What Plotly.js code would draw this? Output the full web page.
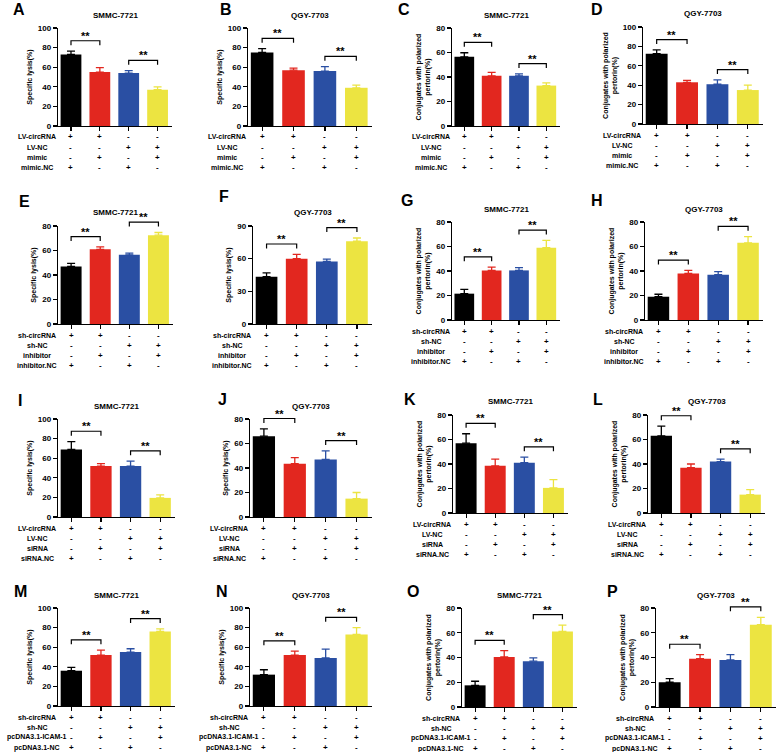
<!DOCTYPE html>
<html><head><meta charset="utf-8">
<script src="https://cdn.plot.ly/plotly-3.0.1.min.js"></script>
<style>html,body{margin:0;padding:0;background:#fff}#chart{width:776px;height:752px}</style>
</head><body><div id="chart"></div>
<script>
// ---------- data ----------
const panelLetters = ['A','B','C','D','E','F','G','H','I','J','K','L','M','N','O','P'];
const cellLines = ['SMMC-7721','QGY-7703','SMMC-7721','QGY-7703'];
const lysisTitle = 'Specific lysis(%)';
const conjTitle = 'Conjugates with polarized<br>pertorin(%)';
const barColors = ['#000000','#e2271f','#2a4fa3','#ece441'];
const signs = [['+','+','-','-'],['-','-','+','+'],['-','+','-','+'],['+','-','+','-']];
const rowLabels1 = ['LV-circRNA','LV-NC','mimic','mimic.NC'];
const rowLabels2 = ['sh-circRNA','sh-NC','inhibitor','inhibitor.NC'];
const rowLabels3 = ['LV-circRNA','LV-NC','siRNA','siRNA.NC'];
const rowLabels4 = ['sh-circRNA','sh-NC','pcDNA3.1-ICAM-1','pcDNA3.1-NC'];

const valA = [73,55,54,37],   errA = [3.5,4.5,2.5,3];
const valB = [75,57,56,39],   errB = [4,2,4.5,2.7];
const valC = [56.5,41,41,33], errC = [3.3,2.7,1.6,2.2];
const valD = [72.5,43,41,35], errD = [4,2,4.5,5];
const valE = [47,61,56.5,72.5], errE = [2.5,2,1.3,2.2];
const valF = [43.5,60,57.5,76], errF = [3.5,4,2,3];
const valG = [21.5,40.5,40.5,59], errG = [3.5,2.7,2.2,6];
const valH = [19,38,37,63],   errH = [2,2.5,2.5,5];
const valI = [69,52,52,19.5], errI = [8,2.5,5,3];
const valJ = [66,43.5,47,15], errJ = [6,5,7,5];
const valK = [57,38.5,41,20.5], errK = [7.7,5.5,4.6,6.8];
const valL = [63,37,42,15],   errL = [8,3,2,4];
const valM = [36,52,55,76],   errM = [3.4,5,3.4,2.7];
const valN = [32,52,49,73],   errN = [5,4,9,7];
const valO = [17.5,40.5,37,61], errO = [3.3,5,2.7,5.2];
const valP = [20,39,38,66.5], errP = [3,3.3,4.3,6];

const yMaxes = [100,100,80,100, 80,90,80,80, 100,80,80,80, 100,100,80,80];
const yTicks = [20,20,20,20, 20,30,20,20, 20,20,20,20, 20,20,20,20];

// ---------- layout geometry (pixels) ----------
const W = 776, H = 752;
const boxes = [
  [58,172,28,126],[248,372,28,126],[452,560,28,126],[643,763,27,124],
  [58,173,226,324],[253,372,226,324],[452,560,222,320],[645,763,222,320],
  [58,175,419,517],[250,372,419,517],[453,568,415,513],[648,765,415,513],
  [58,175,608,706],[250,372,608,706],[462,577,608,707],[656,776,608,707]
];
const letterPos = [
  [19,9],[226,9],[404,9],[597,9],
  [24,202],[224,196],[407,201],[597,200],
  [20,400],[222,399],[410,399],[598,399],
  [20,591],[222,591],[413,591],[612,591]
];

const vals = [valA,valB,valC,valD,valE,valF,valG,valH,valI,valJ,valK,valL,valM,valN,valO,valP];
const errs = [errA,errB,errC,errD,errE,errF,errG,errH,errI,errJ,errK,errL,errM,errN,errO,errP];
const rowLabelSets = [rowLabels1,rowLabels2,rowLabels3,rowLabels4];

const FONT = 'Liberation Sans, Arial, sans-serif';
const XR = [0.55, 4.5];

const traces = [], shapes = [], annotations = [];
const layout = {
  width: W, height: H, margin:{l:0,r:0,t:0,b:0},
  paper_bgcolor:'#fff', plot_bgcolor:'rgba(0,0,0,0)',
  showlegend:false, barmode:'overlay',
  font:{family:FONT, color:'#000'}
};

for (let i = 0; i < 16; i++) {
  const k = i + 1;
  const xa = 'x' + (k === 1 ? '' : k), ya = 'y' + (k === 1 ? '' : k);
  const [l, r, t, b] = boxes[i];
  const xd = [l / W, r / W], yd = [1 - b / H, 1 - t / H];
  const ymax = yMaxes[i];
  const tv = []; for (let v = 0; v <= ymax + 1e-9; v += yTicks[i]) tv.push(v);
  const row = Math.floor(i / 4), col = i % 4;
  const isConj = (col >= 2);

  layout['xaxis' + (k === 1 ? '' : k)] = {
    domain: xd, anchor: ya, range: XR, tickvals: [1,2,3,4], showticklabels: false,
    ticks: 'outside', ticklen: 4, tickwidth: 1.2, tickcolor: '#000',
    showline: true, linecolor: '#000', linewidth: 1.2, showgrid: false, zeroline: false, fixedrange: true
  };
  layout['yaxis' + (k === 1 ? '' : k)] = {
    domain: yd, anchor: xa, range: [0, ymax], tickvals: tv,
    ticks: 'outside', ticklen: 4, tickwidth: 1.2, tickcolor: '#000',
    showline: true, linecolor: '#000', linewidth: 1.2, showgrid: false, zeroline: false, fixedrange: true,
    tickfont: {family: FONT, size: 8, weight: 700, color: '#000'},
    title: {text: isConj ? conjTitle : lysisTitle, font: {family: FONT, size: 7, weight: 700, color: '#000'}, standoff: 4}
  };

  const v = vals[i], e = errs[i];
  for (let j = 0; j < 4; j++) {
    traces.push({
      type: 'bar', x: [j + 1], y: [v[j]], xaxis: xa, yaxis: ya, width: 0.72,
      marker: {color: barColors[j], line: {width: 0}},
      error_y: {type: 'data', symmetric: false, array: [e[j]], arrayminus: [0], color: barColors[j], thickness: 1.3, width: 4},
      hoverinfo: 'skip', showlegend: false
    });
  }

  const xp = xv => xd[0] + (xv - XR[0]) / (XR[1] - XR[0]) * (xd[1] - xd[0]);
  const yp = yv => yd[0] + yv / ymax * (yd[1] - yd[0]);

  // significance brackets
  [[0,1],[2,3]].forEach(([p, q]) => {
    const top = Math.max(v[p] + e[p], v[q] + e[q]) + 0.105 * ymax;
    const leg = 0.045 * ymax;
    const x1 = xp(p + 1), x2 = xp(q + 1), yb = yp(top), yl = yp(top - leg);
    shapes.push({type: 'path', xref: 'paper', yref: 'paper',
      path: `M ${x1},${yl} L ${x1},${yb} L ${x2},${yb} L ${x2},${yl}`,
      line: {color: '#000', width: 1.2}});
    annotations.push({xref: 'paper', yref: 'paper', x: (x1 + x2) / 2, y: yb, yanchor: 'bottom', xanchor: 'center',
      yshift: -3, text: '**', showarrow: false, font: {family: FONT, size: 11, weight: 700, color: '#000'}});
  });

  // panel title
  annotations.push({xref: 'paper', yref: 'paper', x: (l + r) / 2 / W, y: 1 - (t - 13) / H,
    text: cellLines[col], showarrow: false, xanchor: 'center', yanchor: 'middle',
    font: {family: FONT, size: 8, weight: 700, color: '#000'}});
  // panel letter
  annotations.push({xref: 'paper', yref: 'paper', x: letterPos[i][0] / W, y: 1 - letterPos[i][1] / H,
    text: panelLetters[i], showarrow: false, xanchor: 'center', yanchor: 'middle',
    font: {family: FONT, size: 16, weight: 700, color: '#000'}});

  // condition rows
  const labels = rowLabelSets[row];
  for (let rr = 0; rr < 4; rr++) {
    const yy = 1 - (b + 11 + rr * 10.2) / H;
    annotations.push({xref: 'paper', yref: 'paper', x: (l - 21) / W, y: yy, text: labels[rr],
      showarrow: false, xanchor: 'center', yanchor: 'middle',
      font: {family: FONT, size: 7, weight: 700, color: '#000'}});
    for (let j = 0; j < 4; j++) {
      annotations.push({xref: xa, yref: 'paper', x: j + 1, y: yy, text: signs[rr][j],
        showarrow: false, xanchor: 'center', yanchor: 'middle',
        font: {family: FONT, size: 8, weight: 700, color: '#000'}});
    }
  }
}
layout.shapes = shapes;
layout.annotations = annotations;
Plotly.newPlot('chart', traces, layout, {displayModeBar: false, staticPlot: true});
</script></body></html>
